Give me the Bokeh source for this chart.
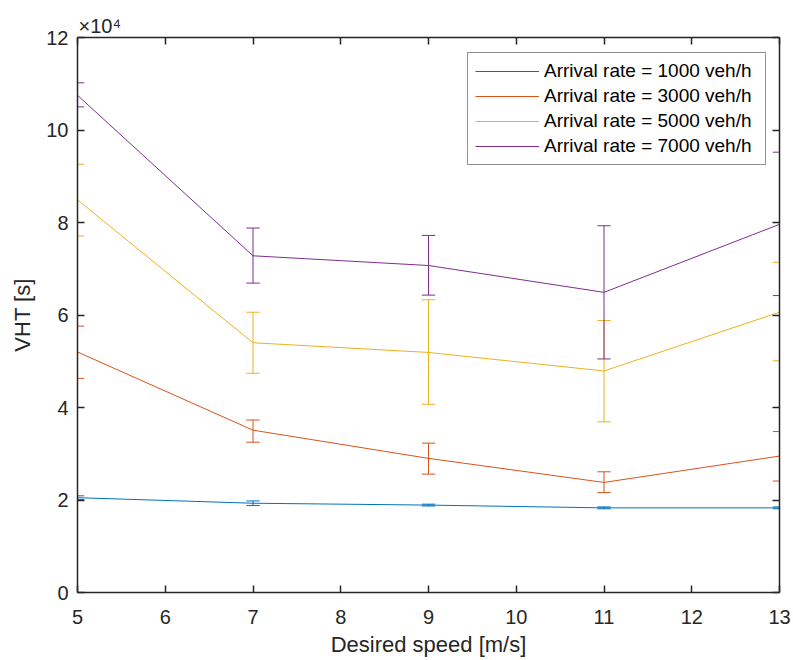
from bokeh.plotting import figure
from bokeh.models import (ColumnDataSource, LinearAxis, Range1d, FixedTicker,
                          CustomJSTickFormatter, Legend, LegendItem, Title)
from bokeh.embed import file_html
from bokeh.resources import INLINE

# ---------------- data ----------------
speeds = [5, 7, 9, 11, 13]  # Desired speed [m/s]

series_labels = ["Arrival rate = 1000 veh/h", "Arrival rate = 3000 veh/h",
                 "Arrival rate = 5000 veh/h", "Arrival rate = 7000 veh/h"]

vht_1000 = [20500, 19300, 18900, 18300, 18300]
lo_1000 = [20100, 18800, 18700, 18100, 18100]
hi_1000 = [20900, 19800, 19100, 18500, 18500]

vht_3000 = [52000, 35100, 29000, 23800, 29500]
lo_3000 = [46300, 32500, 25600, 21600, 24100]
hi_3000 = [57600, 37300, 32300, 26100, 34800]

vht_5000 = [84900, 54000, 51900, 47900, 60600]
lo_5000 = [77100, 47400, 40700, 36900, 50100]
hi_5000 = [92600, 60600, 63300, 58800, 71400]

vht_7000 = [107500, 72800, 70700, 64900, 79600]
lo_7000 = [105000, 66900, 64300, 50500, 64200]
hi_7000 = [110200, 78800, 77200, 79300, 95200]

x_ticks = [5, 6, 7, 8, 9, 10, 11, 12, 13]
y_ticks = [0, 20000, 40000, 60000, 80000, 100000, 120000]
exponent_text = "×10⁴"

colors = ["#0072BD", "#D95319", "#EDB120", "#7E2F8E"]
series = [(vht_1000, lo_1000, hi_1000), (vht_3000, lo_3000, hi_3000),
          (vht_5000, lo_5000, hi_5000), (vht_7000, lo_7000, hi_7000)]

# ---------------- figure ----------------
FONT = "Liberation Sans"
TXT = "#262626"

p = figure(width=793, height=660, output_backend="svg", toolbar_location=None,
           x_range=Range1d(5, 13), y_range=Range1d(0, 120000),
           min_border_left=77, min_border_right=14, min_border_top=37,
           min_border_bottom=68, background_fill_color="white",
           border_fill_color="white")
p.outline_line_color = None
p.xgrid.visible = False
p.ygrid.visible = False

fmt_y = CustomJSTickFormatter(code="return (tick / 10000).toString();")
fmt_blank = CustomJSTickFormatter(code="return '';")

for ax in (p.xaxis[0], p.yaxis[0]):
    ax.axis_line_color = TXT
    ax.axis_line_width = 1.5
    ax.major_tick_line_color = TXT
    ax.major_tick_line_width = 1.5
    ax.major_tick_in = 7
    ax.major_tick_out = 0
    ax.minor_tick_line_color = None
    ax.major_label_text_font = FONT
    ax.major_label_text_font_size = "20px"
    ax.major_label_text_color = TXT
    ax.axis_label_text_font = FONT
    ax.axis_label_text_font_size = "22px"
    ax.axis_label_text_font_style = "normal"
    ax.axis_label_text_color = TXT

p.xaxis[0].ticker = FixedTicker(ticks=x_ticks)
p.yaxis[0].ticker = FixedTicker(ticks=y_ticks)
p.yaxis[0].formatter = fmt_y
p.xaxis[0].axis_label = "Desired speed [m/s]"
p.yaxis[0].axis_label = "VHT [s]"
p.xaxis[0].major_label_standoff = 17
p.xaxis[0].axis_label_standoff = 5
p.yaxis[0].major_label_standoff = 9
p.yaxis[0].axis_label_standoff = 8

# box axes (top / right) with inward ticks and no labels
top = LinearAxis(ticker=FixedTicker(ticks=x_ticks), formatter=fmt_blank)
right = LinearAxis(ticker=FixedTicker(ticks=y_ticks), formatter=fmt_blank)
for ax in (top, right):
    ax.axis_line_color = TXT
    ax.axis_line_width = 1.5
    ax.major_tick_line_color = TXT
    ax.major_tick_line_width = 1.5
    ax.major_tick_in = 7
    ax.major_tick_out = 0
    ax.minor_tick_line_color = None
    ax.major_label_standoff = 0
    ax.major_label_text_font_size = "1px"
p.add_layout(top, "above")
p.add_layout(right, "right")

# exponent marker above the y axis
p.add_layout(Title(text=exponent_text, align="left", offset=1, standoff=2,
                   text_font=FONT, text_font_size="20px",
                   text_font_style="normal", text_color=TXT), "above")

# ---------------- series ----------------
half_cap = 0.076  # cap half-width in data units (~6.7 px)
legend_items = []
for (vals, lo, hi), col, lab in zip(series, colors, series_labels):
    src = ColumnDataSource(dict(x=speeds, y=vals, lo=lo, hi=hi,
                                xl=[s - half_cap for s in speeds],
                                xr=[s + half_cap for s in speeds]))
    line_r = p.line("x", "y", source=src, line_color=col, line_width=1)
    p.segment(x0="x", y0="lo", x1="x", y1="hi", source=src, line_color=col, line_width=1)
    p.segment(x0="xl", y0="lo", x1="xr", y1="lo", source=src, line_color=col, line_width=1)
    p.segment(x0="xl", y0="hi", x1="xr", y1="hi", source=src, line_color=col, line_width=1)
    # legend-only proxy (NaN position: nothing is drawn in the plot itself)
    proxy = ColumnDataSource(dict(x=[float("nan")], y=[float("nan")]))
    icon = p.scatter("x", "y", source=proxy, marker="line", size=16,
                     line_color=col, line_width=1.2)
    legend_items.append(LegendItem(label=lab, renderers=[line_r, icon], index=0))

legend = Legend(items=legend_items, location=(390, 427))
legend.label_text_font = FONT
legend.label_text_font_size = "19px"
legend.label_text_color = "black"
legend.glyph_width = 64
legend.glyph_height = 22
legend.label_height = 22
legend.label_width = 214
legend.label_standoff = 5
legend.spacing = 3
legend.padding = 7
legend.margin = 0
legend.border_line_color = TXT
legend.border_line_width = 1
legend.background_fill_color = "white"
legend.background_fill_alpha = 1
p.add_layout(legend, "center")

open("out.html", "w").write(file_html(p, INLINE))
